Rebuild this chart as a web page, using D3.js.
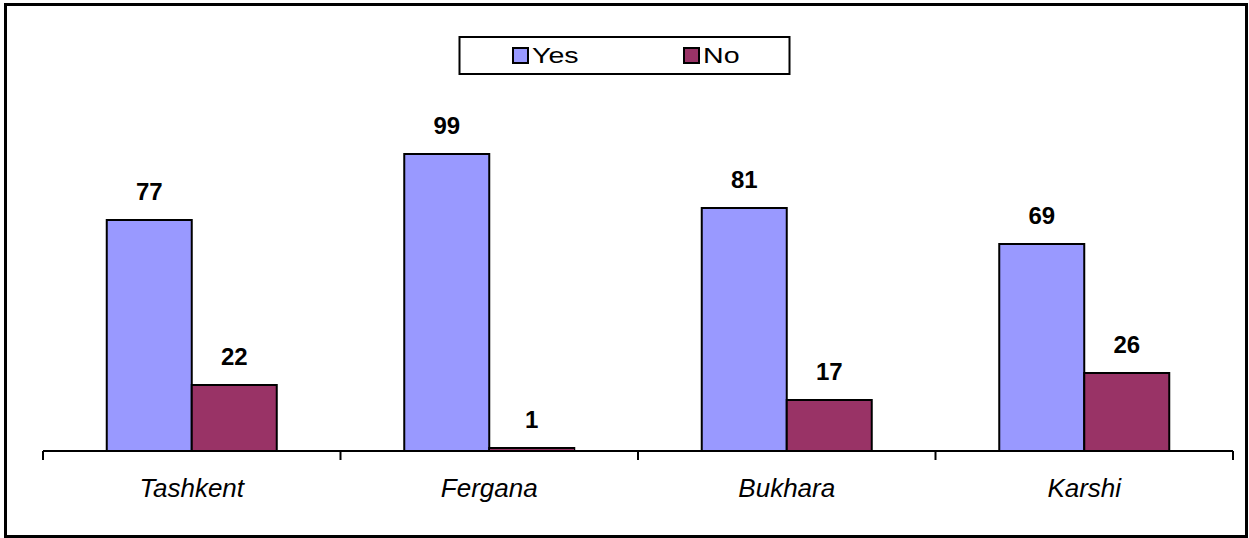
<!DOCTYPE html>
<html>
<head>
<meta charset="utf-8">
<script src="https://cdn.jsdelivr.net/npm/d3@7"></script>
<style>
  html, body { margin: 0; padding: 0; background: #fff; }
  svg { display: block; font-family: "Liberation Sans", Arial, sans-serif; }
</style>
</head>
<body>
<div id="chart"></div>
<script>
// values (percent)
const cities = ['Tashkent', 'Fergana', 'Bukhara', 'Karshi'];
const series = ['Yes', 'No'];
const yesValues = [77, 99, 81, 69];
const noValues = [22, 1, 17, 26];
const colors = ['#9999ff', '#993366'];

const width = 1249, height = 538;
const baseline = 451;

const data = cities.map((c, i) => ({ group: c, Yes: yesValues[i], No: noValues[i] }));

const svg = d3.select('#chart').append('svg')
  .attr('width', width)
  .attr('height', height);

// outer frame
svg.append('rect')
  .attr('x', 5.5).attr('y', 4.5)
  .attr('width', 1241).attr('height', 532)
  .attr('fill', '#fff')
  .attr('stroke', '#000')
  .attr('stroke-width', 3);

const x = d3.scaleBand()
  .domain(cities)
  .range([43, 1233])
  .padding(0);

const xSub = d3.scaleBand()
  .domain(series)
  .range([0, x.bandwidth()])
  .paddingInner(0)
  .paddingOuter(0.75);

const y = d3.scaleLinear()
  .domain([0, 100])
  .range([baseline, baseline - 300]);

const color = d3.scaleOrdinal().domain(series).range(colors);

// bars
const groups = svg.append('g')
  .selectAll('g')
  .data(data)
  .enter().append('g')
    .attr('transform', d => 'translate(' + x(d.group) + ',0)');

const cells = groups.selectAll('g')
  .data(d => series.map(key => ({ key: key, value: d[key] })))
  .enter().append('g');

cells.append('rect')
  .attr('x', d => xSub(d.key))
  .attr('y', d => y(d.value))
  .attr('width', xSub.bandwidth())
  .attr('height', d => baseline - y(d.value))
  .attr('fill', d => color(d.key))
  .attr('stroke', '#000')
  .attr('stroke-width', 2);

cells.append('text')
  .attr('x', d => xSub(d.key) + xSub.bandwidth() / 2)
  .attr('y', d => y(d.value) - 20)
  .attr('text-anchor', 'middle')
  .style('font-size', '24px')
  .style('font-weight', 'bold')
  .text(d => d.value);

// x axis
const axis = svg.append('g')
  .attr('transform', 'translate(0,' + baseline + ')');
axis.append('line')
  .attr('x1', 43).attr('x2', 1233)
  .attr('stroke', '#000').attr('stroke-width', 2);
const tickPos = cities.map(c => x(c)).concat([x.range()[1]]);
axis.selectAll('.tick')
  .data(tickPos)
  .enter().append('line')
    .attr('x1', d => d).attr('x2', d => d)
    .attr('y1', 0).attr('y2', 9)
    .attr('stroke', '#000').attr('stroke-width', 2);
axis.selectAll('.lbl')
  .data(cities)
  .enter().append('text')
    .attr('x', d => x(d) + x.bandwidth() / 2)
    .attr('y', 46)
    .attr('text-anchor', 'middle')
    .style('font-size', '26px')
    .style('font-style', 'italic')
    .text(d => d);

// legend (text in the original is stretched sideways)
const legend = svg.append('g');
legend.append('rect')
  .attr('x', 459.5).attr('y', 37)
  .attr('width', 330).attr('height', 37)
  .attr('fill', '#fff')
  .attr('stroke', '#000').attr('stroke-width', 2);
const legX = [513, 684];
series.forEach((s, i) => {
  legend.append('rect')
    .attr('x', legX[i]).attr('y', 48)
    .attr('width', 15).attr('height', 15)
    .attr('fill', color(s))
    .attr('stroke', '#000').attr('stroke-width', 2);
  legend.append('text')
    .attr('transform', 'translate(' + (legX[i] + 19) + ',63) scale(1.3,1)')
    .style('font-size', '22px')
    .text(s);
});
</script>
</body>
</html>
